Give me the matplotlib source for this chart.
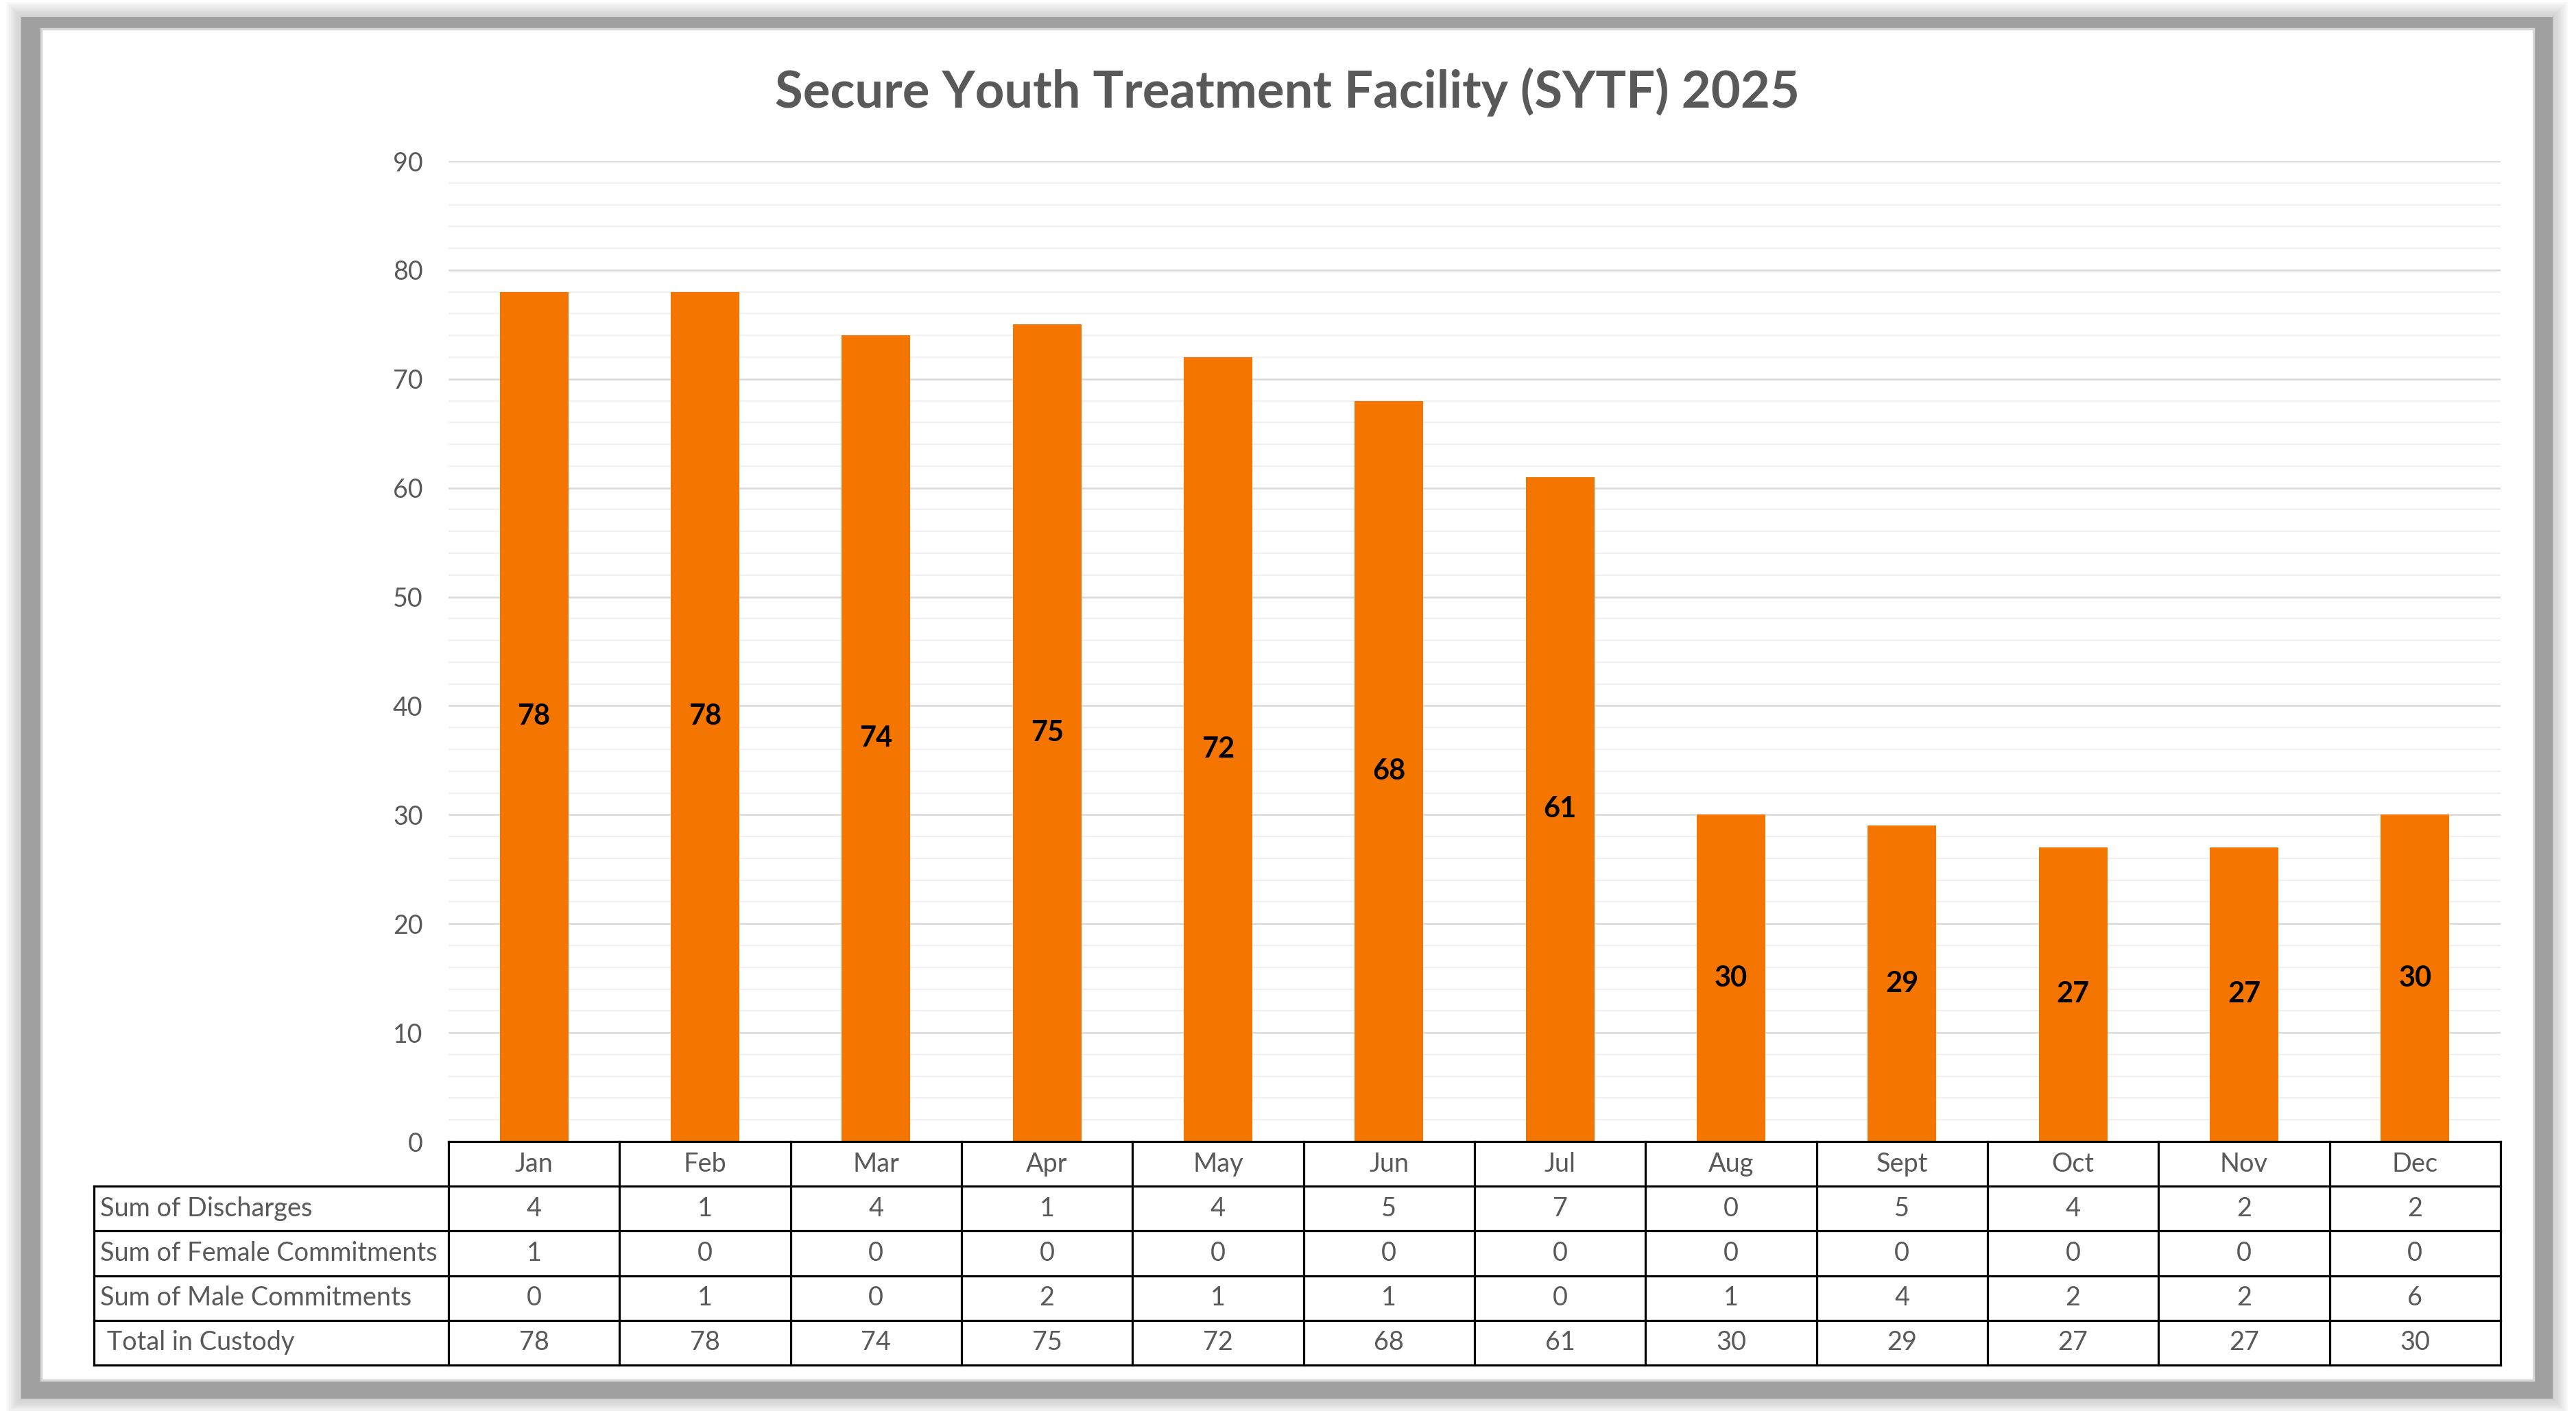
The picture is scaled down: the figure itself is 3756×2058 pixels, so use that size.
import matplotlib
matplotlib.use("Agg")
import matplotlib.pyplot as plt
from matplotlib.patches import Rectangle

# ---------------- data ----------------
months = ["Jan", "Feb", "Mar", "Apr", "May", "Jun", "Jul", "Aug", "Sept", "Oct", "Nov", "Dec"]
discharges = [4, 1, 4, 1, 4, 5, 7, 0, 5, 4, 2, 2]
female_commitments = [1, 0, 0, 0, 0, 0, 0, 0, 0, 0, 0, 0]
male_commitments = [0, 1, 0, 2, 1, 1, 0, 1, 4, 2, 2, 6]
total_in_custody = [78, 78, 74, 75, 72, 68, 61, 30, 29, 27, 27, 30]
row_labels = ["Sum of Discharges", "Sum of Female Commitments",
              "Sum of Male Commitments", " Total in Custody"]
title = "Secure Youth Treatment Facility (SYTF) 2025"
y_ticks = list(range(0, 91, 10))

plt.rcParams['font.family'] = ['Lato', 'DejaVu Sans']

W, H = 3756, 2058
DPI = 100
fig = plt.figure(figsize=(W / DPI, H / DPI), dpi=DPI)
fig.patch.set_facecolor("white")

TXT = "#595959"
BAR = "#F47600"


def fx(px):
    return px / W


def fy(py):
    return 1 - py / H


def frect(x0, y0, x1, y1, **kw):
    r = Rectangle((fx(x0), fy(y1)), (x1 - x0) / W, (y1 - y0) / H,
                  transform=fig.transFigure, **kw)
    fig.patches.append(r)
    return r


# soft shadow around the frame
for k in range(10, 0, -1):
    d = k * 2.2
    frect(31 - d, 25 - d, 3722 + d, 2040 + d, facecolor="#9a9a9a",
          alpha=0.05, edgecolor="none", zorder=0)
# gray frame
frect(31, 25, 3722, 2040, facecolor="#a0a0a0", edgecolor="none", zorder=1)
# white panel
frect(60, 42, 3694, 2013, facecolor="white", edgecolor="#d6d6d6",
      linewidth=2.5, zorder=2)

# ---------------- main axes ----------------
PL, PR, PT, PB = 654, 3646, 235, 1665
ax = fig.add_axes([fx(PL), fy(PB), (PR - PL) / W, (PB - PT) / H])
ax.set_facecolor("none")
ax.set_zorder(3)
n = len(months)
x = list(range(n))
ax.set_xlim(-0.5, n - 0.5)
ax.set_ylim(0, 90)

# gridlines
for v in range(0, 91, 2):
    if v == 0:
        continue
    if v % 10 == 0:
        ax.axhline(v, color="#d9d9d9", lw=1.8, zorder=1)
    else:
        ax.axhline(v, color="#f0f0f0", lw=1.6, zorder=0.5)

ax.bar(x, total_in_custody, width=0.4, color=BAR, zorder=3)
for i, v in enumerate(total_in_custody):
    ax.text(i, v / 2, str(v), ha="center", va="center", fontsize=30,
            fontweight="bold", color="black", zorder=4)

ax.set_yticks(y_ticks)
ax.set_yticklabels([str(t) for t in y_ticks], fontsize=27, color=TXT)
ax.tick_params(axis="y", length=0, pad=27)
ax.set_xticks([])
for s in ax.spines.values():
    s.set_visible(False)

# title
fig.text(fx(1877), fy(157), title, ha="center", va="baseline",
         fontsize=53.5, fontweight="bold", color=TXT)

# ---------------- data table ----------------
TL, TB = 137, 1991
col_w = (PR - PL) / n
lab_w = (PL - TL) / col_w
tax = fig.add_axes([fx(TL), fy(TB), (PR - TL) / W, (TB - PB) / H])
tax.set_zorder(4)
tax.set_xlim(-0.5 - lab_w, n - 0.5)
tax.set_ylim(5, 0)
tax.axis("off")

LW = 2.3
kw = dict(color="black", lw=LW, clip_on=False, solid_capstyle="projecting")
tax.plot([-0.5, n - 0.5], [0, 0], **kw)
for r in range(1, 6):
    tax.plot([-0.5 - lab_w, n - 0.5], [r, r], **kw)
tax.plot([-0.5 - lab_w, -0.5 - lab_w], [1, 5], **kw)
for i in range(n + 1):
    tax.plot([-0.5 + i, -0.5 + i], [0, 5], **kw)

FS = 27.3
for i, m in enumerate(months):
    tax.text(i, 0.5, m, ha="center", va="center", fontsize=FS, color=TXT)
rows = [discharges, female_commitments, male_commitments, total_in_custody]
for r, (lab, vals) in enumerate(zip(row_labels, rows), start=1):
    tax.text(-0.5 - lab_w + 0.036, r + 0.5, lab, ha="left", va="center",
             fontsize=FS, color=TXT)
    for i, v in enumerate(vals):
        tax.text(i, r + 0.5, str(v), ha="center", va="center",
                 fontsize=FS, color=TXT)

fig.savefig("out.png", dpi=DPI, facecolor="white")
